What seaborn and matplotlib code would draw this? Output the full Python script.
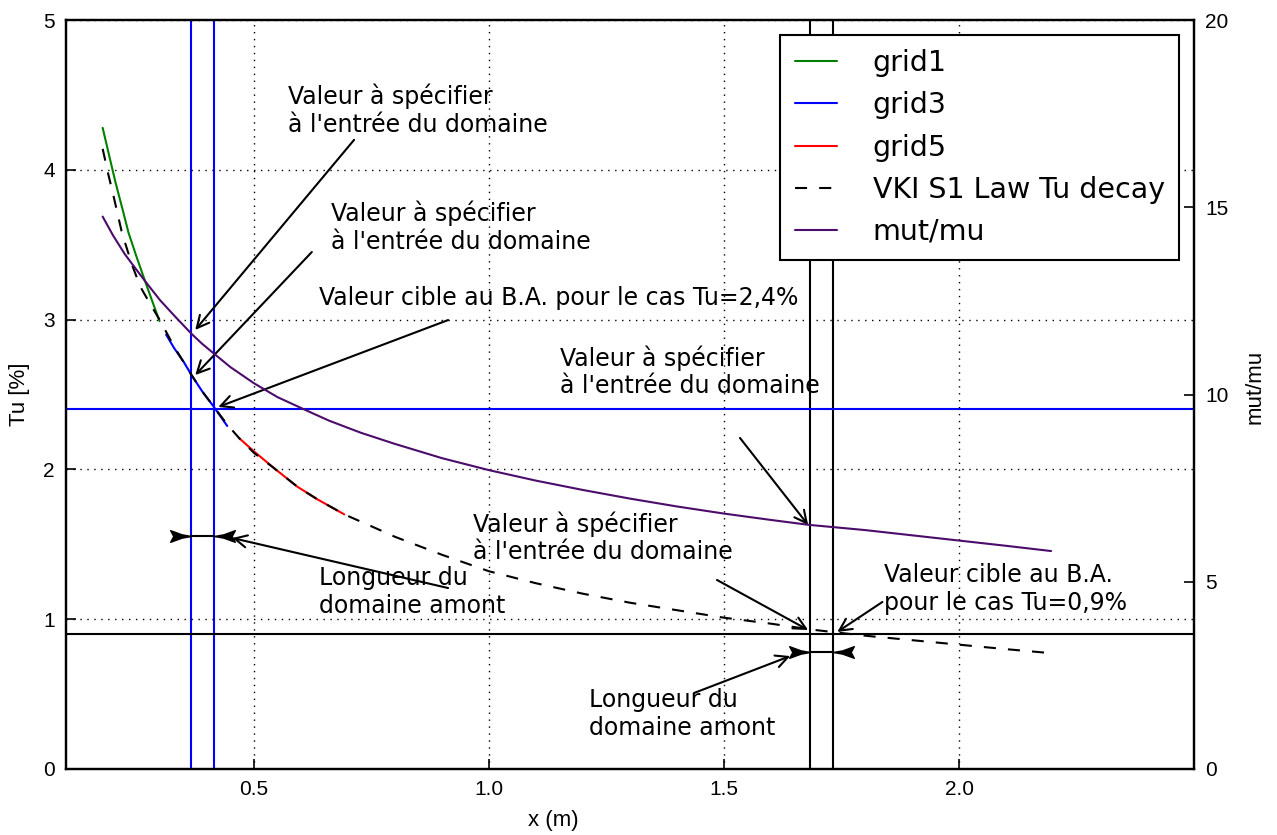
import numpy as np
import pandas as pd
import matplotlib
matplotlib.use("Agg")
import matplotlib.pyplot as plt
import seaborn as sns

# ---------------- data ----------------
grid1_x = [0.178, 0.19, 0.205, 0.22, 0.233, 0.25, 0.269, 0.285, 0.299]
grid1_tu = [4.28, 4.12, 3.92, 3.74, 3.58, 3.42, 3.25, 3.11, 2.99]

grid3_x = [0.313, 0.33, 0.35, 0.367, 0.39, 0.414, 0.443]
grid3_tu = [2.90, 2.81, 2.72, 2.63, 2.52, 2.42, 2.29]

grid5_x = [0.468, 0.50, 0.542, 0.592, 0.635, 0.692]
grid5_tu = [2.21, 2.12, 2.01, 1.885, 1.80, 1.70]

vki_x = [0.178, 0.19, 0.20, 0.219, 0.24, 0.258, 0.28, 0.299, 0.33, 0.367,
         0.39, 0.414, 0.443, 0.468, 0.50, 0.542, 0.592, 0.635, 0.692, 0.75,
         0.80, 0.90, 1.00, 1.10, 1.20, 1.30, 1.40, 1.50, 1.60, 1.688,
         1.80, 1.90, 2.00, 2.10, 2.19]
vki_tu = [4.14, 3.97, 3.84, 3.58, 3.37, 3.22, 3.10, 3.00, 2.82, 2.63,
          2.52, 2.42, 2.30, 2.21, 2.11, 2.01, 1.885, 1.80, 1.70, 1.62,
          1.55, 1.43, 1.32, 1.24, 1.17, 1.11, 1.06, 1.01, 0.97, 0.93,
          0.89, 0.86, 0.83, 0.80, 0.775]

mut_x = [0.178, 0.20, 0.225, 0.25, 0.27, 0.30, 0.33, 0.367, 0.39, 0.414, 0.45,
         0.50, 0.55, 0.614, 0.66, 0.727, 0.80, 0.90, 1.00, 1.10, 1.20,
         1.30, 1.40, 1.50, 1.60, 1.68, 1.80, 1.90, 2.00, 2.10, 2.196]
mut_mu = [14.75, 14.25, 13.75, 13.33, 13.0, 12.52, 12.11, 11.62, 11.35, 11.1, 10.73,
          10.3, 9.93, 9.56, 9.30, 8.98, 8.68, 8.3, 7.98, 7.70, 7.45,
          7.22, 7.01, 6.82, 6.65, 6.52, 6.38, 6.24, 6.10, 5.96, 5.82]

series_labels = ["grid1", "grid3", "grid5", "VKI S1 Law Tu decay", "mut/mu"]

tu_targets = [2.4, 0.9]               # horizontal reference lines (Tu %)
domain_inlet_a = [0.367, 0.414]       # blue vertical lines (x, m)
domain_inlet_b = [1.683, 1.732]       # black vertical lines (x, m)
length_marks_tu = [1.555, 0.78]       # height of the length markers

x_ticks = [0.5, 1.0, 1.5, 2.0]
x_tick_labels = ["0.5", "1.0", "1.5", "2.0"]
tu_ticks = [0, 1, 2, 3, 4, 5]
mut_ticks = [0, 5, 10, 15, 20]

# ---------------- style ----------------
sns.set_theme(style="white")
plt.rcParams["font.family"] = ["DejaVu Sans"]
plt.rcParams["text.color"] = "black"
plt.rcParams["axes.labelcolor"] = "black"
plt.rcParams["lines.scale_dashes"] = True

fig = plt.figure(figsize=(12.77, 8.35), dpi=100)
ax = fig.add_axes([66 / 1277, 1 - 769 / 835, 1128 / 1277, 749 / 835])
ax2 = ax.twinx()

LW = 1.5

# reference lines
for xv in domain_inlet_a:
    ax.axvline(xv, color="blue", lw=LW, zorder=2)
for xv in domain_inlet_b:
    ax.axvline(xv, color="black", lw=LW, zorder=2)
ax.axhline(tu_targets[0], color="blue", lw=LW, zorder=2)
ax.axhline(tu_targets[1], color="black", lw=LW, zorder=2)

# curves
h_grid1 = sns.lineplot(x=grid1_x, y=grid1_tu, ax=ax, color="green", lw=LW,
                       estimator=None, sort=False, zorder=3).get_lines()[-1]
h_grid3 = sns.lineplot(x=grid3_x, y=grid3_tu, ax=ax, color="blue", lw=LW,
                       estimator=None, sort=False, zorder=3).get_lines()[-1]
h_grid5 = sns.lineplot(x=grid5_x, y=grid5_tu, ax=ax, color="red", lw=LW,
                       estimator=None, sort=False, zorder=3).get_lines()[-1]
h_vki = sns.lineplot(x=vki_x, y=vki_tu, ax=ax, color="black", lw=LW, estimator=None,
                     sort=False, linestyle=(0, (5.8, 5.8)), zorder=4).get_lines()[-1]
h_mut = sns.lineplot(x=mut_x, y=mut_mu, ax=ax2, color="#4B0C6B", lw=LW,
                     estimator=None, sort=False, zorder=3).get_lines()[-1]

# length markers (concave arrow heads pointing onto the vertical lines)
head_r = [(0, 0), (-0.45, 0.08), (-1, 0.28), (-0.85, 0), (-1, -0.28), (-0.45, -0.08), (0, 0)]
head_l = [(-a, b) for a, b in head_r]
for (xa, xb), yv in zip([domain_inlet_a, domain_inlet_b], length_marks_tu):
    ax.plot([xa, xb], [yv, yv], color="black", lw=LW, zorder=5)
    ax.plot([xa], [yv], marker=head_r, ms=30, color="black", mec="black", ls="none", zorder=5)
    ax.plot([xb], [yv], marker=head_l, ms=30, color="black", mec="black", ls="none", zorder=5)

# annotations: (text, text position, arrow tail, arrow tip)
ann_txt = "Valeur à spécifier\nà l'entrée du domaine"
annotations = [
    (ann_txt, (0.572, 4.573), (0.713, 4.200), (0.375, 2.931)),
    (ann_txt, (0.663, 3.792), (0.623, 3.451), (0.375, 2.630)),
    ("Valeur cible au B.A. pour le cas Tu=2,4%", (0.638, 3.224), (0.913, 2.997), (0.424, 2.417)),
    (ann_txt, (1.152, 2.830), (1.534, 2.210), (1.679, 1.629)),
    (ann_txt, (0.966, 1.722), (1.485, 1.262), (1.679, 0.928)),
    ("Valeur cible au B.A.\npour le cas Tu=0,9%", (1.841, 1.375), (1.837, 1.115), (1.741, 0.915)),
    ("Longueur du\ndomaine amont", (0.638, 1.355), (0.913, 1.208), (0.454, 1.542)),
    ("Longueur du\ndomaine amont", (1.212, 0.541), (1.436, 0.507), (1.641, 0.754)),
]
for txt, tpos, tail, tip in annotations:
    ax.text(tpos[0], tpos[1], txt, ha="left", va="top", fontsize=17,
            color="black", zorder=6, linespacing=1.2)
    ax.annotate("", xy=tip, xytext=tail, xycoords="data", textcoords="data",
                arrowprops=dict(arrowstyle="->", color="black", lw=LW,
                                shrinkA=0, shrinkB=0, mutation_scale=22),
                zorder=6)

# axes
ax.set_xlim(0.1, 2.5)
ax.set_ylim(0, 5)
ax2.set_ylim(0, 20)
ax.set_xticks(x_ticks)
ax.set_xticklabels(x_tick_labels)
ax.set_yticks(tu_ticks)
ax2.set_yticks(mut_ticks)

fp_ticks = matplotlib.font_manager.FontProperties(family=["Liberation Sans", "DejaVu Sans"], size=15)
for lab in ax.get_xticklabels() + ax.get_yticklabels() + ax2.get_yticklabels():
    lab.set_fontproperties(fp_ticks)

ax.tick_params(axis="both", direction="in", length=7, width=1.2, color="black", pad=8,
               labelcolor="black", left=True, bottom=True)
ax2.tick_params(axis="y", direction="in", length=7, width=1.2, color="black", pad=8,
                labelcolor="black", right=True)

ax.grid(True, color="black", linestyle=(0, (1, 4)), linewidth=1.0)
ax2.grid(False)
ax.set_axisbelow(False)
for a in (ax, ax2):
    for s in a.spines.values():
        s.set_color("black")
        s.set_linewidth(1.6)

label_font = ["Liberation Sans", "DejaVu Sans"]
ax.set_xlabel("x (m)", fontsize=16, family=label_font, color="black")
ax.set_ylabel("Tu [%]", fontsize=16, family=label_font, color="black")
ax2.set_ylabel("mut/mu", fontsize=16, family=label_font, color="black")
ax.xaxis.set_label_coords((553 - 66) / 1128, -0.055)
ax.yaxis.set_label_coords(-0.032, 0.5)
ax2.yaxis.set_label_coords(1.045, 0.51)

# legend
leg = ax2.legend([h_grid1, h_grid3, h_grid5, h_vki, h_mut], series_labels,
                 loc="upper right", fontsize=20.5, frameon=True, fancybox=False,
                 framealpha=1, edgecolor="black", handlelength=1.5,
                 handletextpad=1.25, labelspacing=0.5, borderpad=0.5,
                 borderaxespad=0.52, labelcolor="black")
leg.get_frame().set_linewidth(1.5)
leg.set_zorder(10)

fig.savefig("out.png", dpi=100)
